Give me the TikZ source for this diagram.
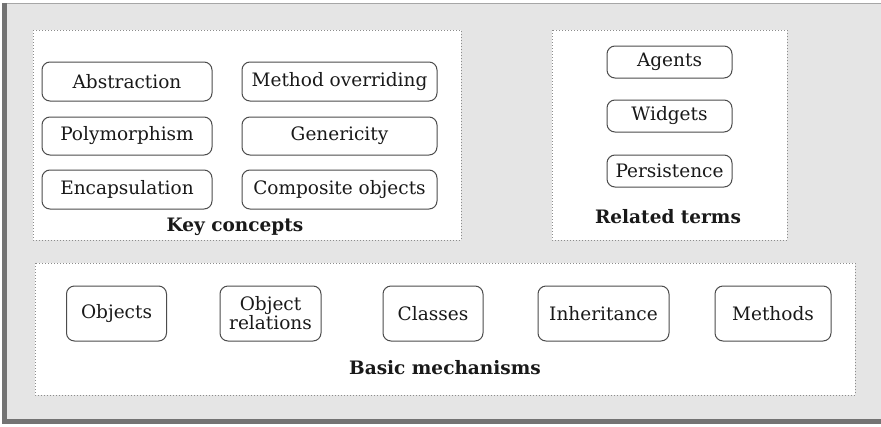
\documentclass[tikz,border=0pt]{standalone}
\usepackage{fontspec}
\setmainfont{DejaVu Serif}
\begin{document}
\begin{tikzpicture}[x=1pt,y=-1pt,
  term/.style={draw=black!70, line width=1pt, rounded corners=8pt, fill=white,
    font=\fontsize{18.5}{19}\selectfont, align=center, inner sep=0pt, text=black!90},
  group/.style={draw=black!45, line width=1pt, dotted, fill=white},
  grouptitle/.style={font=\fontsize{18.5}{21}\selectfont\bfseries, text=black!90}]
\useasboundingbox (0,0) rectangle (881,426);
\fill[white] (0,0) rectangle (881,426);
% outer panel with shaded left and bottom edges
\fill[black!10] (4,3) rectangle (881,420);
\draw[black!35, line width=1.2pt] (4,3.5) -- (881,3.5);
\fill[black!55] (2,3) rectangle (6.5,424);
\fill[black!55] (2,418.5) rectangle (881,424);

% key concepts
\draw[group] (33,30) rectangle (461,240);
\node[term, minimum width=170, minimum height=39] (abs) at (127,81.5) {Abstraction};
\node[term, minimum width=195, minimum height=39] (mov) at (339.5,81.5) {Method overriding};
\node[term, minimum width=170, minimum height=38] (poly) at (127,136) {Polymorphism};
\node[term, minimum width=195, minimum height=38] (gen) at (339.5,136) {Genericity};
\node[term, minimum width=170, minimum height=39] (enc) at (127,189.5) {Encapsulation};
\node[term, minimum width=195, minimum height=39] (comp) at (339.5,189.5) {Composite objects};
\node[grouptitle] (kc) at (235,227) {Key concepts};

% related terms
\draw[group] (552,30) rectangle (787,240);
\node[term, minimum width=125, minimum height=32] (agt) at (669.5,62) {Agents};
\node[term, minimum width=125, minimum height=32] (wid) at (669.5,116) {Widgets};
\node[term, minimum width=125, minimum height=32] (per) at (669.5,171) {Persistence};
\node[grouptitle] (rt) at (668,217) {Related terms};

% basic mechanisms
\draw[group] (35,263) rectangle (855,395);
\node[term, minimum width=100, minimum height=55] (obj) at (116.5,313.5) {Objects};
\node[term, minimum width=101, minimum height=55] (orel) at (270.5,313.5) {Object\\relations};
\node[term, minimum width=100, minimum height=55] (cls) at (433,313.5) {Classes};
\node[term, minimum width=131, minimum height=55] (inh) at (603.5,313.5) {Inheritance};
\node[term, minimum width=116, minimum height=55] (meth) at (773,313.5) {Methods};
\node[grouptitle] (bm) at (445,368) {Basic mechanisms};
\end{tikzpicture}
\end{document}
